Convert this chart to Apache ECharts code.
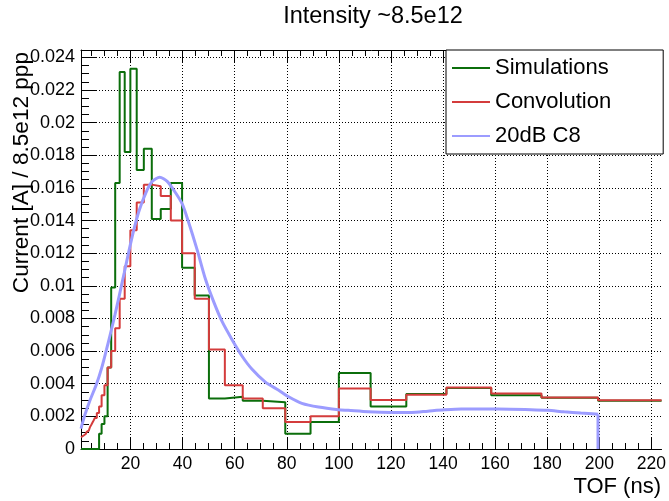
<!DOCTYPE html>
<html>
<head>
<meta charset="utf-8">
<script src="https://cdn.jsdelivr.net/npm/echarts@6/dist/echarts.min.js"></script>
<style>
html,body{margin:0;padding:0;background:#fff;}
#chart{width:669px;height:501px;}
</style>
</head>
<body>
<div id="chart"></div>
<script>
// Log-spaced bin edges (ns) of the histograms
var binEdges = [1, 1.122, 1.259, 1.413, 1.585, 1.778, 1.995, 2.239, 2.512, 2.818,
  3.162, 3.548, 3.981, 4.467, 5.012, 5.623, 6.310, 7.079, 7.943, 8.913,
  10, 11.22, 12.59, 14.13, 15.85, 17.78, 19.95, 22.39, 25.12, 28.18,
  31.62, 35.48, 39.81, 44.67, 50.12, 56.23, 63.10, 70.79, 79.43, 89.13,
  100, 112.2, 125.9, 141.3, 158.5, 177.8, 199.5, 223.9];

// Simulations histogram contents (one per bin)
var simulations = [0, 0, 0, 0, 0, 0, 0, 0, 0, 0,
  0, 0, 0, 0, 0, 0, 0, 0, 0.00094, 0.00153,
  0.0020, 0.0050, 0.0099, 0.0163, 0.0231, 0.0182, 0.0233, 0.0171, 0.0184, 0.0141,
  0.0147, 0.0163, 0.0111, 0.0094, 0.0031, 0.0032, 0.00296, 0.00286, 0.00094, 0.00166,
  0.00465, 0.00261, 0.00337, 0.00374, 0.0033, 0.00314, 0.00296];

// Convolution histogram contents (one per bin)
var convolution = [0.00072, 0.00074, 0.00076, 0.00078, 0.0008, 0.00082, 0.00085, 0.00088, 0.00092, 0.00098,
  0.00105, 0.00113, 0.00123, 0.00135, 0.0015, 0.00168, 0.0019, 0.0022, 0.0026, 0.0033,
  0.0039, 0.0050, 0.0060, 0.0074, 0.0092, 0.0112, 0.0134, 0.0151, 0.0162, 0.0161,
  0.0155, 0.0140, 0.0120, 0.0092, 0.0061, 0.0039, 0.0031, 0.0025, 0.00166, 0.0020,
  0.0037, 0.0030, 0.00333, 0.00377, 0.0034, 0.00316, 0.00298];

// Measured 20dB C8 curve: TOF (ns) and current
var measTof = [1, 2.3, 4.5, 7, 9, 10.8, 12.2, 14, 15.7, 17.6,
  19.5, 21.4, 23.3, 25.9, 28.4, 31.2, 34.1, 37.3, 39.9, 42.1,
  45.6, 48.8, 52, 55.2, 59, 62.8, 66.6, 71.8, 76.9, 80.7,
  85.8, 92.2, 99.8, 103.6, 111.3, 120.2, 127.9, 134.2, 140.6, 147,
  161, 173.8, 180.2, 186.5, 192.9, 198.6, 199.5, 199.5];
var measCurrent = [0.00125, 0.0020, 0.0030, 0.0040, 0.0050, 0.0061, 0.0070, 0.0082, 0.0094, 0.0108,
  0.0122, 0.0135, 0.0146, 0.0157, 0.0164, 0.01665, 0.0164, 0.0157, 0.0150, 0.0140,
  0.0122, 0.0104, 0.0090, 0.0078, 0.0067, 0.0057, 0.0049, 0.0041, 0.0036, 0.0032,
  0.0028, 0.00257, 0.00241, 0.00237, 0.00228, 0.00224, 0.00224, 0.00232, 0.0024, 0.00245,
  0.00245, 0.00241, 0.00237, 0.00228, 0.00221, 0.00215, 0.00213, 0];

// Axis tick labels
var xTickValues = [20, 40, 60, 80, 100, 120, 140, 160, 180, 200, 220];
var yTickValues = [0, 0.002, 0.004, 0.006, 0.008, 0.01, 0.012, 0.014, 0.016, 0.018, 0.02, 0.022, 0.024];

var X_MIN = 1, X_MAX = 223.9, Y_MIN = 0, Y_MAX = 0.02445;

function histPoints(vals) {
  var pts = [];
  for (var i = 0; i < vals.length; i++) pts.push([binEdges[i], vals[i]]);
  pts.push([binEdges[vals.length], vals[vals.length - 1]]);
  return pts;
}
var measPoints = measTof.map(function (t, i) { return [t, measCurrent[i]]; });
var measCurve = measPoints.slice(0, measPoints.length - 1);
var measDrop = measPoints.slice(measPoints.length - 2);

var xMinor = [];
for (var v = 5; v < X_MAX; v += 5) if (v % 20 !== 0) xMinor.push(v);
var yMinor = [];
for (var j = 1; j * 0.0005 < Y_MAX; j++) if (j % 4 !== 0) yMinor.push(+(j * 0.0005).toFixed(4));

var FONT = '"Liberation Sans", Arial, Helvetica, sans-serif';
var gridLine = { show: true, lineStyle: { color: '#000', type: [1, 2], width: 1 } };

function xAx(pos, ticks, len, labels, line, split) {
  return {
    type: 'value', position: pos, min: X_MIN, max: X_MAX,
    axisLine: { show: line, onZero: false, lineStyle: { color: '#000', width: 1 } },
    axisTick: { show: true, inside: true, length: len, customValues: ticks, lineStyle: { color: '#000' } },
    axisLabel: labels ? { show: true, customValues: ticks, color: '#000', fontFamily: FONT, fontSize: 17.5, margin: 6 } : { show: false },
    splitLine: split ? gridLine : { show: false }
  };
}
function yAx(ticks, len, labels, line, split) {
  return {
    type: 'value', position: 'left', min: Y_MIN, max: Y_MAX,
    axisLine: { show: line, onZero: false, lineStyle: { color: '#000', width: 1 } },
    axisTick: { show: true, inside: true, length: len, customValues: ticks, lineStyle: { color: '#000' } },
    axisLabel: labels ? { show: true, customValues: ticks, color: '#000', fontFamily: FONT, fontSize: 18, margin: 6,
      formatter: function (v) { return String(+(+v).toFixed(4)); } } : { show: false },
    splitLine: split ? gridLine : { show: false }
  };
}

var BLUE = '#9c9cff';
var chart = echarts.init(document.getElementById('chart'), null, { renderer: 'canvas' });
chart.setOption({
  animation: false,
  backgroundColor: '#fff',
  grid: { left: 81, right: 5, top: 50, bottom: 52, containLabel: false },
  xAxis: [
    xAx('bottom', xTickValues, 12, true, true, true),
    xAx('bottom', xMinor, 6, false, false, false),
    xAx('top', xTickValues, 12, false, true, false),
    xAx('top', xMinor, 6, false, false, false)
  ],
  yAxis: [
    yAx(yTickValues, 16, true, true, true),
    yAx(yMinor, 8, false, false, false)
  ],
  legend: {
    orient: 'vertical', left: 446, top: 50,
    backgroundColor: '#fff', borderColor: '#000', borderWidth: 1,
    padding: [7, 52, 7, 6], itemGap: 12, itemWidth: 38, itemHeight: 2,
    icon: 'rect',
    textStyle: { fontFamily: FONT, fontSize: 22, color: '#000', lineHeight: 21 },
    data: ['Simulations', 'Convolution', '20dB C8']
  },
  graphic: [
    { type: 'text', x: 373, y: 17, style: { text: 'Intensity ~8.5e12', font: '23.5px ' + FONT, fill: '#000', align: 'center', verticalAlign: 'middle' } },
    { type: 'text', x: 22, y: 52, rotation: Math.PI / 2, style: { text: 'Current [A] / 8.5e12 ppp', font: '22.6px ' + FONT, fill: '#000', align: 'right', verticalAlign: 'middle' } },
    { type: 'text', x: 661, y: 487, style: { text: 'TOF (ns)', font: '22px ' + FONT, fill: '#000', align: 'right', verticalAlign: 'middle' } }
  ],
  series: [
    { name: 'Simulations', type: 'line', step: 'end', xAxisIndex: 0, yAxisIndex: 0, symbol: 'none',
      lineStyle: { color: '#0b6e0b', width: 2 }, itemStyle: { color: '#0b6e0b' }, data: histPoints(simulations), z: 2 },
    { name: 'Convolution', type: 'line', step: 'end', xAxisIndex: 0, yAxisIndex: 0, symbol: 'none',
      lineStyle: { color: '#d43c3c', width: 2 }, itemStyle: { color: '#d43c3c' }, data: histPoints(convolution), z: 3 },
    { name: '20dB C8', type: 'line', xAxisIndex: 0, yAxisIndex: 0, symbol: 'none', smooth: 0.25,
      lineStyle: { color: BLUE, width: 3 }, itemStyle: { color: BLUE }, data: measCurve, z: 4 },
    { name: '20dB C8 end', type: 'line', xAxisIndex: 0, yAxisIndex: 0, symbol: 'none',
      lineStyle: { color: BLUE, width: 3 }, itemStyle: { color: BLUE }, data: measDrop, z: 4 }
  ]
});
</script>
</body>
</html>
